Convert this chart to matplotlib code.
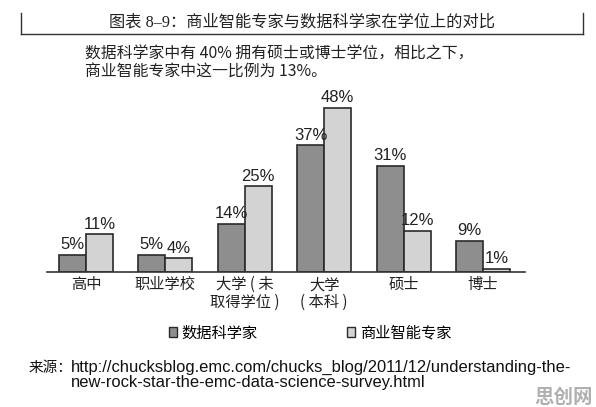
import matplotlib
matplotlib.use("Agg")
import matplotlib.pyplot as plt
import numpy as np
from matplotlib.patches import Patch
from matplotlib.lines import Line2D

plt.rcParams['font.family'] = ['Noto Sans CJK SC', 'DejaVu Sans']

categories = ['高中', '职业学校', '大学 ( 未\n取得学位 )', '大学\n( 本科 )', '硕士', '博士']
data_scientists = [5, 5, 14, 37, 31, 9]
bi_experts = [11, 4, 25, 48, 12, 1]
series_names = ['数据科学家', '商业智能专家']

title = '图表 8–9：商业智能专家与数据科学家在学位上的对比'
subtitle = '数据科学家中有 40% 拥有硕士或博士学位，相比之下，\n商业智能专家中这一比例为 13%。'
source_url = 'http://chucksblog.emc.com/chucks_blog/2011/12/understanding-the-\nnew-rock-star-the-emc-data-science-survey.html'

W, H = 596, 407
dark = '#8e8e8e'
light = '#d3d3d3'
edge = '#2a2a2a'

fig = plt.figure(figsize=(W / 100, H / 100), dpi=100)


def fx(px):
    return px / W


def fy(py):
    return 1 - py / H


# title box
for xs, ys in [([21, 21], [13, 34]), ([21, 583], [34, 34]), ([583, 583], [13, 34])]:
    fig.add_artist(Line2D([fx(v) for v in xs], [fy(v) for v in ys], color='#333333', lw=1.0))
fig.text(fx(302), fy(22), title, ha='center', va='center', fontsize=11.7, color='#222222',
         family=['Liberation Serif', 'Noto Sans CJK SC'])

fig.text(fx(85), fy(63), subtitle, ha='left', va='center', fontsize=11.4,
         color='#222222', linespacing=1.1)

ax = fig.add_axes([fx(47), fy(272), fx(525) - fx(47), (272 - 90) / H])
x = np.arange(len(categories))
w = 0.34
b1 = ax.bar(x - w / 2, data_scientists, w, color=dark, edgecolor=edge, linewidth=1.2)
b2 = ax.bar(x + w / 2, bi_experts, w, color=light, edgecolor=edge, linewidth=1.2)
for bars, vals in [(b1, data_scientists), (b2, bi_experts)]:
    for bar, v in zip(bars, vals):
        ax.annotate(f'{v}%', (bar.get_x() + bar.get_width() / 2, v), xytext=(0, 2),
                    textcoords='offset points', ha='center', va='bottom',
                    fontsize=12, color='#222222',
                    family=['Liberation Sans', 'DejaVu Sans'])

ax.set_xlim(-0.49, 5.53)
ax.set_ylim(0, 53.2)
for s in ['top', 'right', 'left']:
    ax.spines[s].set_visible(False)
ax.spines['bottom'].set_color('#333333')
ax.spines['bottom'].set_linewidth(1.2)
ax.set_yticks([])
ax.set_xticks(x)
ax.set_xticklabels(categories, fontsize=11, color='#222222', linespacing=1.05)
ax.tick_params(axis='x', length=0, pad=3)

handles = [Patch(facecolor=dark, edgecolor=edge, lw=1.0),
           Patch(facecolor=light, edgecolor=edge, lw=1.0)]
fig.legend(handles, series_names, loc='center', bbox_to_anchor=(fx(310), fy(333)),
           ncol=2, frameon=False, fontsize=11, handlelength=0.55, handleheight=0.55,
           handletextpad=0.3, columnspacing=5.8)

fig.text(fx(29), fy(368), '来源：', ha='left', va='center', fontsize=10.5, color='#111111')
fig.text(fx(71), fy(375), source_url, ha='left', va='center', fontsize=11.9,
         color='#111111', family=['Liberation Sans', 'DejaVu Sans'], linespacing=0.95)

fig.text(fx(593), fy(397), '思创网', ha='right', va='center', fontsize=14,
         color='#b0b0b0', fontweight='bold')

fig.savefig('out.png', dpi=100, facecolor='white')
